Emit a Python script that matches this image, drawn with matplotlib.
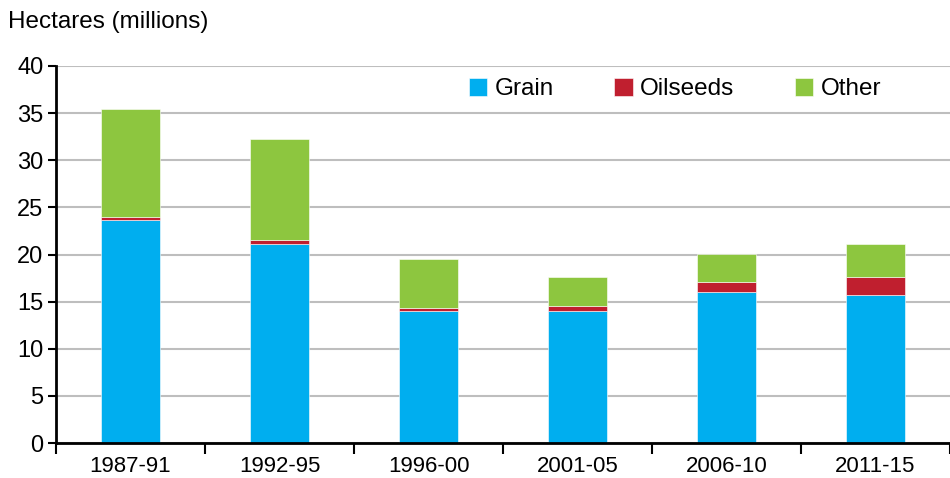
import numpy as np
import matplotlib.pyplot as plt
from matplotlib.ticker import FixedLocator

periods = ['1987-91', '1992-95', '1996-00', '2001-05', '2006-10', '2011-15']
grain = [23.7, 21.1, 14.0, 14.0, 16.0, 15.7]
oilseeds = [0.3, 0.4, 0.35, 0.55, 1.05, 1.95]
other = [11.4, 10.8, 5.15, 3.1, 3.0, 3.45]

plt.rcParams['font.family'] = ['Liberation Sans', 'DejaVu Sans']

fig = plt.figure(figsize=(9.5, 4.78), dpi=100)
ax = fig.add_axes([0.059, 0.073, 0.941, 0.789])

x = np.arange(len(periods))
w = 0.4
grain = np.array(grain)
oilseeds = np.array(oilseeds)
other = np.array(other)

ax.bar(x, grain, w, color='#00AEEF', edgecolor='white', linewidth=0.4, label='Grain', zorder=3)
ax.bar(x, oilseeds, w, bottom=grain, color='#C01F2F', edgecolor='white', linewidth=0.4,
       label='Oilseeds', zorder=3)
ax.bar(x, other, w, bottom=grain + oilseeds, color='#8DC63F', edgecolor='white', linewidth=0.4,
       label='Other', zorder=3)

ax.set_xlim(-0.5, len(periods) - 0.5)
ax.set_ylim(0, 40)
ax.set_yticks(range(0, 41, 5))
ax.yaxis.grid(True, color='#BEBEBE', linewidth=1.5, zorder=0)

# category labels at centres, tick marks at the boundaries
ax.set_xticks(np.arange(-0.5, len(periods) - 0.4, 1.0))
ax.set_xticklabels([])
ax.xaxis.set_minor_locator(FixedLocator(x))
ax.set_xticklabels(periods, minor=True)
ax.tick_params(axis='x', which='major', length=8, width=1.5, direction='out')
ax.tick_params(axis='x', which='minor', length=0, pad=9, labelsize=16)
ax.tick_params(axis='y', length=6, width=1.5, labelsize=17, pad=3)

for s in ['top', 'right']:
    ax.spines[s].set_visible(False)
ax.spines['left'].set_linewidth(2)
ax.spines['bottom'].set_linewidth(2)
ax.spines['left'].set_zorder(4)
ax.spines['bottom'].set_zorder(4)

fig.text(0.008, 0.953, 'Hectares (millions)', fontsize=17.5, va='center', ha='left')

ax.legend(loc='center left', bbox_to_anchor=(0.451, 0.939), ncol=3, frameon=False, fontsize=17.5,
          handlelength=0.75, handleheight=0.75, handletextpad=0.3, columnspacing=2.5,
          borderaxespad=0)

fig.savefig('out.png', dpi=100)
